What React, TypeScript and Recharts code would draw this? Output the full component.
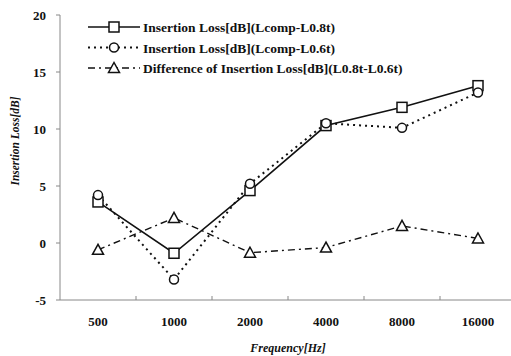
import React from "react";
import { LineChart, Line, XAxis, YAxis } from "recharts";

const frequencies = ["500", "1000", "2000", "4000", "8000", "16000"];
const loss08 = [3.6, -0.9, 4.6, 10.3, 11.9, 13.8];
const loss06 = [4.2, -3.2, 5.2, 10.5, 10.1, 13.2];
const diff = [-0.6, 2.2, -0.85, -0.4, 1.5, 0.4];
const yTicks = [-5, 0, 5, 10, 15, 20];

const seriesNames = [
  "Insertion Loss[dB](Lcomp-L0.8t)",
  "Insertion Loss[dB](Lcomp-L0.6t)",
  "Difference of Insertion Loss[dB](L0.8t-L0.6t)",
];

const data = frequencies.map((f, i) => ({
  freq: f,
  a: loss08[i],
  b: loss06[i],
  c: diff[i],
}));

const FONT = "'Liberation Serif', 'Times New Roman', serif";
const INK = "#111";

function Marker({ kind, cx, cy }: { kind: string; cx: number; cy: number }) {
  if (kind === "square")
    return <rect x={cx - 5} y={cy - 5} width={10} height={10} fill="#fff" stroke={INK} strokeWidth={1.5} />;
  if (kind === "circle")
    return <circle cx={cx} cy={cy} r={4.5} fill="#fff" stroke={INK} strokeWidth={1.5} />;
  return (
    <polygon
      points={`${cx},${cy - 5.5} ${cx - 5.5},${cy + 4.5} ${cx + 5.5},${cy + 4.5}`}
      fill="#fff"
      stroke={INK}
      strokeWidth={1.5}
    />
  );
}

const dotFor = (kind: string) => (props: any) =>
  <Marker key={`${kind}-${props.index}`} kind={kind} cx={props.cx} cy={props.cy} />;

const styles = [
  { kind: "square", dash: undefined, width: 1.6 },
  { kind: "circle", dash: "2 4", width: 2 },
  { kind: "triangle", dash: "7 4 2 4", width: 1.4 },
];

// legend drawn as an overlay so it doesn't take space from the plot
function LegendBox() {
  return (
    <svg width={320} height={66}>
      {seriesNames.map((name, i) => {
        const y = 8 + i * 20.5;
        const s = styles[i];
        return (
          <g key={name}>
            <line x1={0} x2={52} y1={y} y2={y} stroke={INK} strokeWidth={s.width} strokeDasharray={s.dash} />
            <Marker kind={s.kind} cx={26} cy={y} />
            <text x={55} y={y + 5} fontFamily={FONT} fontWeight="bold" fontSize={13.5} fill={INK}>
              {name}
            </text>
          </g>
        );
      })}
    </svg>
  );
}

function XTick(props: any) {
  const { x, y, payload, index } = props;
  return (
    <g>
      {index > 0 && <line x1={x - 38} x2={x - 38} y1={y - 12} y2={y - 8} stroke="#888" />}
      <text x={x} y={y + 18} textAnchor="middle" fontFamily={FONT} fontWeight="bold" fontSize={13} fill={INK}>
        {payload.value}
      </text>
    </g>
  );
}

const yLabel = () => (
  <text
    transform="translate(19,141) rotate(-90)"
    textAnchor="middle"
    fontFamily={FONT}
    fontStyle="italic"
    fontWeight="bold"
    fontSize={11.5}
    fill={INK}
  >
    Insertion Loss[dB]
  </text>
);

export default function App() {
  return (
    <div style={{ position: "absolute", left: 0, top: 0, width: 511, height: 356, overflow: "hidden", background: "#fff" }}>
      <LineChart width={520} height={356} data={data} margin={{ top: 15, right: 4, bottom: 0, left: 0 }}>
        <XAxis
          dataKey="freq"
          height={56}
          padding={{ left: 38, right: 38 }}
          tickLine={false}
          axisLine={{ stroke: "#888" }}
          tick={<XTick />}
          interval={0}
          label={{
            value: "Frequency[Hz]",
            position: "insideBottom",
            offset: 4,
            style: { fontFamily: FONT, fontStyle: "italic", fontWeight: "bold", fontSize: 12, fill: INK },
          }}
        />
        <YAxis
          width={60}
          domain={[-5, 20]}
          ticks={yTicks}
          interval={0}
          axisLine={{ stroke: "#888" }}
          tickLine={{ stroke: "#888" }}
          tickSize={4}
          tickMargin={10}
          tick={{ fontFamily: FONT, fontWeight: "bold", fontSize: 13, fill: INK }}
          label={{ content: yLabel }}
        />
        <Line dataKey="a" stroke={INK} strokeWidth={1.6} dot={dotFor("square")} isAnimationActive={false} />
        <Line dataKey="b" stroke={INK} strokeWidth={2} strokeDasharray="2 4" dot={dotFor("circle")} isAnimationActive={false} />
        <Line dataKey="c" stroke={INK} strokeWidth={1.4} strokeDasharray="7 4 2 4" dot={dotFor("triangle")} isAnimationActive={false} />
      </LineChart>
      <div style={{ position: "absolute", left: 88, top: 19 }}>
        <LegendBox />
      </div>
    </div>
  );
}
